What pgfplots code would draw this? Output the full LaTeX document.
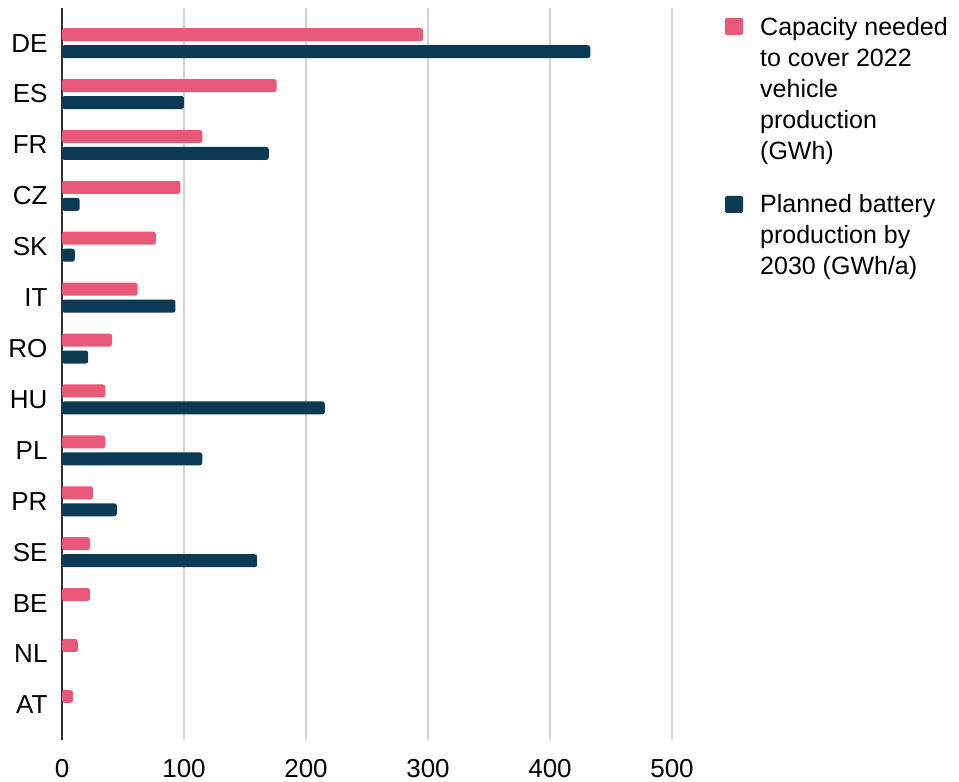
\documentclass[border=0pt]{standalone}
\usepackage{pgfplots}
\pgfplotsset{compat=1.18}
\usepackage{fontspec}
\setmainfont{Liberation Sans}
\definecolor{pinkbar}{RGB}{233,88,120}
\definecolor{navybar}{RGB}{10,58,84}
\definecolor{gridgray}{RGB}{210,210,210}
\begin{document}
\begin{tikzpicture}[x=1pt,y=1pt]
\useasboundingbox (-62,-42) rectangle (897,740);
\begin{axis}[
  at={(0,0)}, anchor=south west,
  scale only axis,
  width=610pt, height=732pt,
  xbar,
  bar width=13pt,
  xmin=0, xmax=500,
  ymin=-0.69, ymax=13.69,
  y dir=reverse,
  axis x line*=bottom,
  x axis line style={draw=none},
  xticklabels={},
  axis y line*=left,
  y axis line style={line width=1.3pt, color=black!80},
  xtick={0,100,200,300,400,500},
  ytick={0,...,13},
  yticklabels={DE,ES,FR,CZ,SK,IT,RO,HU,PL,PR,SE,BE,NL,AT},
  major tick length=0pt,
  xmajorgrids,
  grid style={gridgray, line width=1.3pt},
  tick label style={font=\fontsize{26}{29}\selectfont},
  /pgf/number format/assume math mode=true,
  yticklabel style={xshift=-11pt},
  clip=false,
]
\pgfplotsinvokeforeach{0,100,200,300,400,500}{
  \node[font=\fontsize{26}{29}\selectfont, anchor=center] at (axis cs:#1,13.69) [yshift=-29pt] {#1};
}
\addplot[fill=pinkbar, draw=none, bar shift=8.5pt, rounded corners=2.5pt] coordinates {
(296,0) (176,1) (115,2) (97,3) (77,4) (62,5) (41,6) (35.5,7) (35.5,8) (25.5,9) (23,10) (23,11) (13,12) (9,13)
};
\addplot[fill=navybar, draw=none, bar shift=-8.5pt, rounded corners=2.5pt] coordinates {
(433,0) (100,1) (169.5,2) (14.5,3) (10.5,4) (93,5) (21.5,6) (215.5,7) (115,8) (45,9) (160,10) (0,11) (0,12) (0,13)
};
\end{axis}
\fill[pinkbar, rounded corners=1.5pt] (663,705) rectangle (681,722);
\fill[navybar, rounded corners=1.5pt] (663,527) rectangle (681,544);
\begin{scope}[every node/.style={anchor=base west, inner sep=0pt, font=\fontsize{25}{31}\selectfont}]
\node at (698,704) {Capacity needed};
\node at (698,673) {to cover 2022};
\node at (698,642) {vehicle};
\node at (698,611) {production};
\node at (698,580) {(GWh)};
\node at (698,527) {Planned battery};
\node at (698,496) {production by};
\node at (698,465) {2030 (GWh/a)};
\end{scope}
\end{tikzpicture}
\end{document}
